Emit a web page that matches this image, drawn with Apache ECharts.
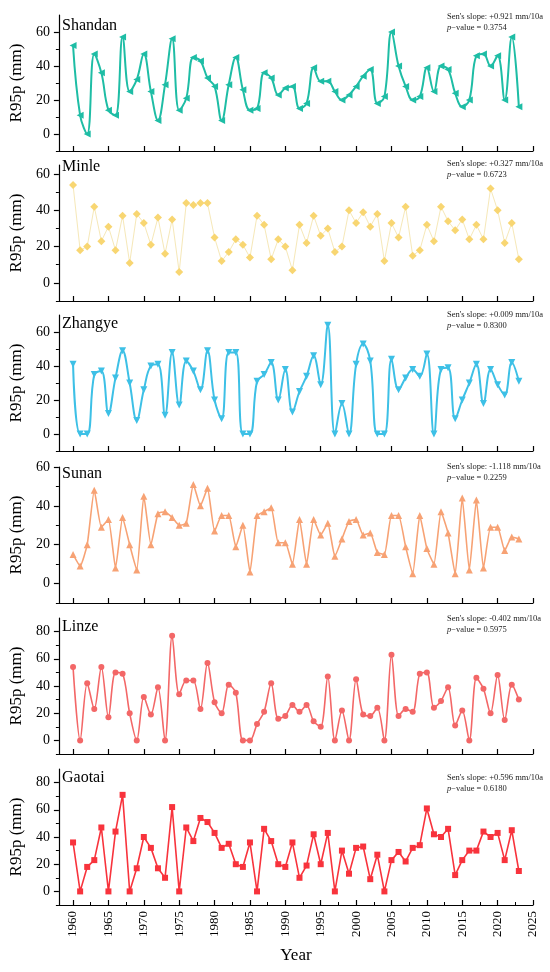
<!DOCTYPE html>
<html>
<head>
<meta charset="utf-8">
<script src="https://cdn.jsdelivr.net/npm/echarts@6/dist/echarts.min.js"></script>
<style>
html, body { margin: 0; padding: 0; background: #fff; }
#main { width: 550px; height: 972px; }
</style>
</head>
<body>
<div id="main"></div>
<script>
// years on the x axis
var years = [];
for (var y = 1960; y <= 2023; y++) years.push(y);

var stations = ['Shandan', 'Minle', 'Zhangye', 'Sunan', 'Linze', 'Gaotai'];

// R95p (mm), 1960-2023
var shandan = [52,11,0,47,36,14,11,57,25,32, 47,25,8,29,56,14,21,45,43,33, 28,8,29,45,26,14,15,36,33,23,
               27,28,15,18,39,31,31,25,20,23, 28,34,38,18,22,60,40,28,20,22, 39,25,40,38,24,16,20,46,47,40, 46,20,57,16];
var minle   = [54,18,20,42,23,31,18,37,11,38, 33,21,36,16,35,6,44,43,44,44, 25,12,17,24,21,14,37,32,13,24,
               20,7,32,22,37,26,30,17,20,40, 33,39,31,38,12,33,25,42,15,18, 32,23,42,34,29,35,24,32,24,52, 40,22,33,13];
var zhangye = [41,0,0,35,37,12,33,49,30,8, 26,40,41,11,48,17,43,37,26,49, 20,9,48,48,0,0,31,35,42,20,
               38,13,25,34,46,29,64,0,18,0, 41,53,43,0,0,44,26,33,38,34, 47,0,38,39,9,20,30,41,18,38, 29,23,42,31];
var sunan   = [15,9,20,48,29,33,8,34,20,7, 45,20,36,37,34,30,31,51,40,49, 27,35,35,19,30,6,35,37,39,21,
               21,10,33,10,33,25,31,14,23,32, 33,25,26,16,15,35,35,19,5,35, 18,10,37,26,5,44,7,43,8,29, 29,17,24,23];
var linze   = [54,0,42,23,54,17,50,49,20,0, 32,19,39,0,77,34,44,44,23,57, 28,20,41,35,0,0,12,21,42,16,
               18,26,21,26,14,10,47,0,22,0, 45,19,18,24,0,63,18,23,21,49, 50,24,29,39,11,22,0,46,38,20, 48,15,41,30];
var gaotai  = [36,0,18,23,47,0,44,71,0,17, 40,32,17,10,62,0,47,37,54,51, 43,32,35,20,18,36,0,46,37,20,
               18,36,10,19,42,20,43,0,30,13, 32,33,9,27,0,23,29,22,32,34, 61,42,40,46,12,23,30,30,44,40, 43,23,45,15];
var allData = [shandan, minle, zhangye, sunan, linze, gaotai];

// Sen's slope text
var slopes  = ['+0.921', '+0.327', '+0.009', '-1.118', '-0.402', '+0.596'];
var pValues = ['0.3754', '0.6723', '0.8300', '0.2259', '0.5975', '0.6180'];

// tick labels
var yTickLabels = [[0,20,40,60], [0,20,40,60], [0,20,40,60], [0,20,40,60], [0,20,40,60,80], [0,20,40,60,80]];
var yMinorTicks = [[-10,10,30,50], [-10,10,30,50], [-10,10,30,50], [-10,10,30,50], [-10,10,30,50,70], [-10,10,30,50,70]];
var xTickLabels = [1960,1965,1970,1975,1980,1985,1990,1995,2000,2005,2010,2015,2020,2025];
var xMinorTicks = [1962.5,1967.5,1972.5,1977.5,1982.5,1987.5,1992.5,1997.5,2002.5,2007.5,2012.5,2017.5,2022.5];

// panel looks (Origin-like)
var looks = [
    { color: '#1EBDA5', line: '#1EBDA5', width: 2,   symbol: 'triangle', rotate: 90,  size: 7, smooth: 0.4 },
    { color: '#F8D672', line: '#F6E8B8', width: 1,   symbol: 'diamond',  rotate: 0,   size: 8, smooth: false },
    { color: '#3DC0E6', line: '#3DC0E6', width: 2,   symbol: 'triangle', rotate: 180, size: 7, smooth: 0.4 },
    { color: '#F7A274', line: '#F7A274', width: 1.6, symbol: 'triangle', rotate: 0,   size: 7, smooth: 0.15 },
    { color: '#F36767', line: '#F36767', width: 1.6, symbol: 'circle',   rotate: 0,   size: 6, smooth: 0.3 },
    { color: '#F8333C', line: '#F8333C', width: 1.6, symbol: 'rect',     rotate: 0,   size: 6, smooth: false }
];
var gridTops = [15, 165, 315, 467, 618, 769];
var yMax = [70, 65, 70, 60, 90, 90];
var nameTops = [18, 159, 316, 466, 619, 770];
var senTops = [11, 158, 309, 461, 613, 772];

var font = 'Liberation Serif';
var grids = [], xAxes = [], yAxes = [], series = [], titles = [];

for (var i = 0; i < 6; i++) {
    var last = (i === 5);
    grids.push({ left: 57, right: 17, top: gridTops[i], height: 136 });

    var xMain = xAxes.length;
    xAxes.push({
        type: 'value', gridIndex: i, position: 'bottom', min: 1958, max: 2025,
        name: last ? 'Year' : '', nameLocation: 'middle', nameGap: 42,
        nameTextStyle: { fontFamily: font, fontSize: 17, color: '#000' },
        axisLine: { show: true, onZero: false, lineStyle: { color: '#000', width: 1.2 } },
        axisTick: { show: true, inside: true, length: 5, customValues: xTickLabels, lineStyle: { color: '#000', width: 1.2 } },
        axisLabel: { show: last, customValues: xTickLabels, rotate: 90, margin: 6,
                     formatter: function (v) { return String(v); },
                     fontFamily: font, fontSize: 13, color: '#000' },
        splitLine: { show: false }
    });
    if (last) {
        xAxes.push({
            type: 'value', gridIndex: i, position: 'bottom', min: 1958, max: 2025,
            axisLine: { show: false, onZero: false },
            axisTick: { show: true, inside: true, length: 3, customValues: xMinorTicks, lineStyle: { color: '#000', width: 1 } },
            axisLabel: { show: false }, splitLine: { show: false }
        });
    }

    var yMain = yAxes.length;
    yAxes.push({
        type: 'value', gridIndex: i, position: 'left', min: -10, max: yMax[i],
        name: 'R95p (mm)', nameLocation: 'middle', nameGap: 28,
        nameTextStyle: { fontFamily: font, fontSize: 17, color: '#000' },
        axisLine: { show: true, onZero: false, lineStyle: { color: '#000', width: 1.2 } },
        axisTick: { show: true, length: 5, customValues: yTickLabels[i], lineStyle: { color: '#000', width: 1.2 } },
        axisLabel: { customValues: yTickLabels[i], margin: 9, fontFamily: font, fontSize: 14, color: '#000' },
        splitLine: { show: false }
    });
    yAxes.push({
        type: 'value', gridIndex: i, position: 'left', min: -10, max: yMax[i],
        axisLine: { show: false, onZero: false },
        axisTick: { show: true, length: 3, customValues: yMinorTicks[i], lineStyle: { color: '#000', width: 1 } },
        axisLabel: { show: false }, splitLine: { show: false }
    });

    var lk = looks[i];
    var pts = [];
    for (var k = 0; k < years.length; k++) pts.push([years[k], allData[i][k]]);
    series.push({
        name: stations[i], type: 'line', xAxisIndex: xMain, yAxisIndex: yMain,
        data: pts, smooth: lk.smooth,
        symbol: lk.symbol, symbolSize: lk.size, symbolRotate: lk.rotate, showAllSymbol: true,
        lineStyle: { color: lk.line, width: lk.width },
        itemStyle: { color: lk.color, borderWidth: 0 },
        z: 3
    });

    titles.push({
        text: stations[i], left: 62, top: nameTops[i], padding: 0,
        textStyle: { fontFamily: font, fontSize: 16, fontWeight: 'normal', color: '#000' }
    });
    titles.push({
        text: "Sen's slope: " + slopes[i] + " mm/10a\n{i|p}\u2212value = " + pValues[i],
        left: 447, top: senTops[i], padding: 0,
        textStyle: {
            fontFamily: font, fontSize: 8.5, fontWeight: 'normal', color: '#222', lineHeight: 11,
            rich: { i: { fontStyle: 'italic', fontFamily: font, fontSize: 8.5, color: '#222', lineHeight: 11 } }
        }
    });
}

var chart = echarts.init(document.getElementById('main'));
chart.setOption({
    backgroundColor: '#fff',
    animation: false,
    title: titles,
    grid: grids,
    xAxis: xAxes,
    yAxis: yAxes,
    series: series
});
</script>
</body>
</html>
